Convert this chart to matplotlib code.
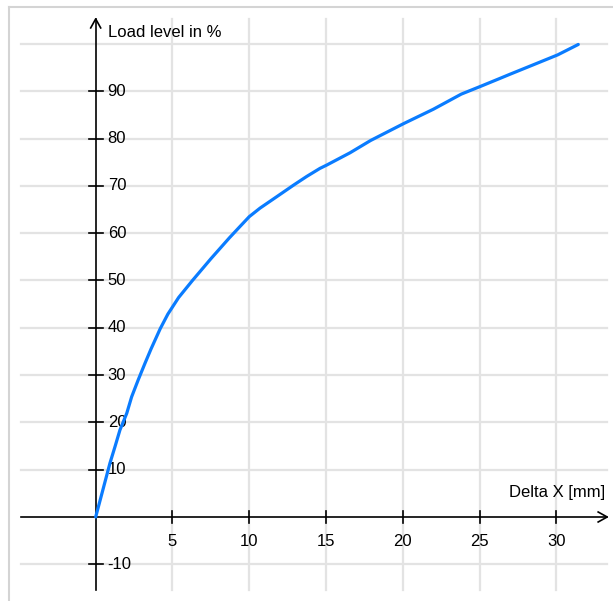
import matplotlib
matplotlib.use("Agg")
import matplotlib.pyplot as plt

# load-displacement curve
delta_x = [0, 0.93, 1.26, 1.58, 2.02, 2.34, 2.77, 3.21, 3.6, 4.2, 4.7,
           5.4, 6.3, 7.5, 8.7, 9.39, 10.0, 10.7, 11.78, 12.9, 13.74,
           14.6, 15.04, 16.56, 17.9, 20.07, 21.98, 23.8, 25.1, 26.3, 26.97,
           28.49, 30.08, 31.42]
load = [0, 11.4, 14.9, 18.4, 21.9, 25.4, 29.0, 32.5, 35.5, 39.8, 42.9,
        46.4, 50.0, 54.6, 59.0, 61.4, 63.5, 65.3, 67.7, 70.2, 72.0,
        73.7, 74.4, 77.0, 79.6, 83.2, 86.2, 89.4, 91.1, 92.7, 93.6,
        95.6, 97.7, 99.9]

x_ticks = [5, 10, 15, 20, 25, 30]
y_ticks = [-10, 10, 20, 30, 40, 50, 60, 70, 80, 90]
y_grid = [-10, 10, 20, 30, 40, 50, 60, 70, 80, 90, 100]

XMIN, XMAX = -6.23, 33.68
YMIN, YMAX = -17.76, 109.3
# extents of axis lines / grid
GX0, GX1 = -4.86, 33.3
GY0, GY1 = -15.4, 105.3

plt.rcParams["font.family"] = ["Liberation Sans", "DejaVu Sans"]

fig = plt.figure(figsize=(6.13, 6.01), dpi=100)
ax = fig.add_axes([0, 0, 1, 1])
ax.set_xlim(XMIN, XMAX)
ax.set_ylim(YMIN, YMAX)
ax.axis("off")

px_x = (XMAX - XMIN) / 613.0   # data units per pixel
px_y = (YMAX - YMIN) / 601.0

grid_c = "#e3e3e3"
for xv in x_ticks:
    ax.plot([xv, xv], [GY0, GY1], color=grid_c, lw=1.6, zorder=1)
for yv in y_grid:
    ax.plot([GX0, GX1], [yv, yv], color=grid_c, lw=1.6, zorder=1)

# outer frame (top and left edges visible)
ax.plot([-5.64, XMAX], [107.9, 107.9], color="#d4d4d4", lw=1.5, zorder=1,
        clip_on=False)
ax.plot([-5.64, -5.64], [107.9, YMIN], color="#d4d4d4", lw=1.5, zorder=1,
        clip_on=False)

# axes through origin
ax.plot([GX0, GX1], [0, 0], color="black", lw=1.2, zorder=3)
ax.plot([0, 0], [GY0, GY1], color="black", lw=1.2, zorder=3)
# open arrowheads
ax.plot([GX1 - 9 * px_x, GX1, GX1 - 9 * px_x], [5 * px_y, 0, -5 * px_y],
        color="black", lw=1.2, zorder=3)
ax.plot([-5 * px_x, 0, 5 * px_x], [GY1 - 9 * px_y, GY1, GY1 - 9 * px_y],
        color="black", lw=1.2, zorder=3)

# tick marks and labels
for xv in x_ticks:
    ax.plot([xv, xv], [-6 * px_y, 6 * px_y], color="black", lw=1.2, zorder=3)
    ax.text(xv, -25 * px_y, str(xv), ha="center", va="center", fontsize=12)
for yv in y_ticks:
    ax.plot([-7 * px_x, 7 * px_x], [yv, yv], color="black", lw=1.2, zorder=3)
    ax.text(12 * px_x, yv, str(yv), ha="left", va="center", fontsize=12,
            zorder=2)

ax.text(12 * px_x, GY1 - 13.5 * px_y, "Load level in %", ha="left",
        va="center", fontsize=12)
ax.text(GX1 - 2 * px_x, 24.5 * px_y, "Delta X [mm]", ha="right", va="center",
        fontsize=12)

ax.plot(delta_x, load, color="#0a7cff", lw=2.3, zorder=4,
        solid_capstyle="round", solid_joinstyle="round")

fig.savefig("out.png", dpi=100)
